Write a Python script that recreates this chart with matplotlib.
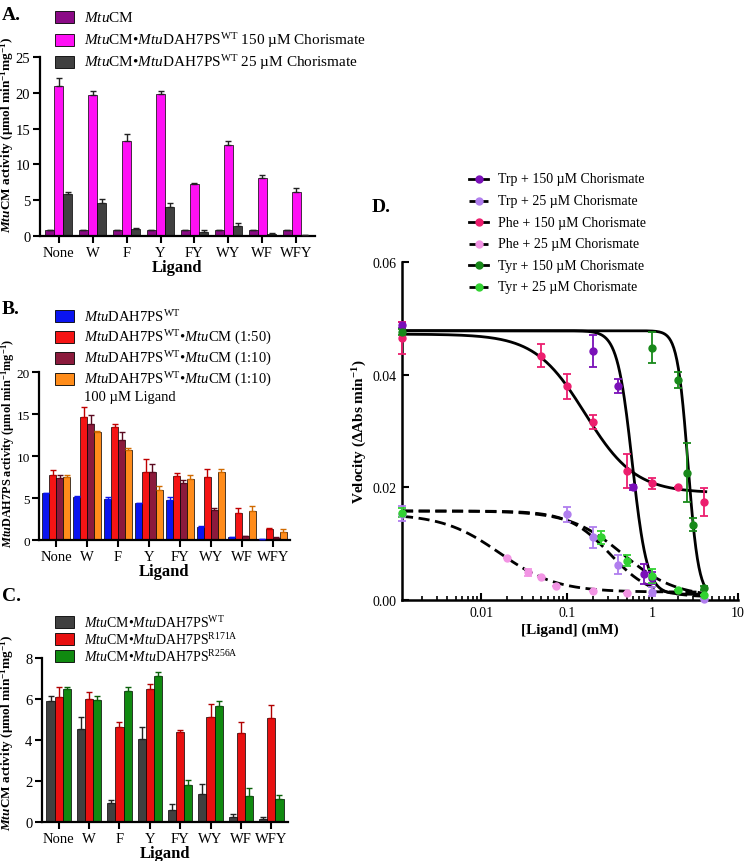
import numpy as np
import matplotlib
matplotlib.use('Agg')
import matplotlib.pyplot as plt
import matplotlib.patches as patches
from matplotlib.lines import Line2D
from matplotlib.ticker import FixedLocator, LogLocator, NullFormatter

plt.rcParams['font.family'] = ['Liberation Serif', 'DejaVu Serif']
plt.rcParams['mathtext.fontset'] = 'custom'
plt.rcParams['mathtext.rm'] = 'Liberation Serif'
plt.rcParams['mathtext.it'] = 'Liberation Serif:italic'
plt.rcParams['mathtext.bf'] = 'Liberation Serif:bold'
plt.rcParams['mathtext.bfit'] = 'Liberation Serif:italic:bold'

ligands = ['None', 'W', 'F', 'Y', 'FY', 'WY', 'WF', 'WFY']

# panel A
a_cm = [0.85, 0.85, 0.85, 0.85, 0.85, 0.85, 0.85, 0.85]
a_cm_err = [0.05] * 8
a_150 = [20.95, 19.65, 13.25, 19.9, 7.3, 12.65, 8.15, 6.15]
a_150_err = [1.05, 0.6, 0.95, 0.4, 0.15, 0.55, 0.35, 0.6]
a_25 = [5.9, 4.6, 1.0, 4.05, 0.6, 1.35, 0.25, 0.1]
a_25_err = [0.3, 0.5, 0.1, 0.6, 0.3, 0.5, 0.1, 0.05]

# panel B
b_wt = [5.6, 5.1, 4.9, 4.35, 4.8, 1.5, 0.35, 0.1]
b_wt_err = [0.05, 0.1, 0.25, 0.05, 0.3, 0.15, 0.05, 0.02]
b_50 = [7.75, 14.7, 13.45, 8.05, 7.65, 7.55, 3.2, 1.3]
b_50_err = [0.6, 1.1, 0.35, 1.6, 0.3, 0.9, 0.65, 0.1]
b_10 = [7.35, 13.8, 11.95, 8.1, 6.75, 3.55, 0.45, 0.25]
b_10_err = [0.4, 1.1, 0.95, 1.0, 0.4, 0.25, 0.05, 0.05]
b_10l = [7.5, 12.85, 10.7, 5.95, 7.25, 8.15, 3.45, 0.95]
b_10l_err = [0.25, 0.1, 0.25, 0.5, 0.5, 0.3, 0.6, 0.4]

# panel C
c_wt = [5.9, 4.55, 0.95, 4.05, 0.57, 1.35, 0.22, 0.13]
c_wt_err = [0.25, 0.55, 0.12, 0.6, 0.3, 0.48, 0.15, 0.1]
c_171 = [6.12, 6.02, 4.62, 6.5, 4.4, 5.12, 4.35, 5.05]
c_171_err = [0.45, 0.33, 0.28, 0.25, 0.1, 0.62, 0.52, 0.65]
c_256 = [6.5, 5.95, 6.4, 7.12, 1.8, 5.68, 1.25, 1.12]
c_256_err = [0.1, 0.2, 0.18, 0.2, 0.25, 0.2, 0.4, 0.18]

# panel D (ligand mM, velocity, sd)
trp150_x = [0.00118, 0.2, 0.4, 0.6, 0.8, 1.0]
trp150_y = [0.0488, 0.0442, 0.0380, 0.0200, 0.0046, 0.0039]
trp150_e = [0.0005, 0.0028, 0.0012, 0.0005, 0.0018, 0.0010]
trp25_x = [0.00118, 0.1, 0.2, 0.4, 1.0, 4.0]
trp25_y = [0.0153, 0.0152, 0.0111, 0.0063, 0.0015, 0.0001]
trp25_e = [0.0013, 0.0013, 0.0018, 0.0016, 0.0008, 0.0]
phe150_x = [0.00118, 0.05, 0.1, 0.2, 0.5, 1.0, 2.0, 4.0]
phe150_y = [0.0465, 0.0434, 0.0379, 0.0316, 0.0229, 0.0207, 0.0200, 0.0174]
phe150_e = [0.0028, 0.0020, 0.0022, 0.0012, 0.0030, 0.0010, 0.0, 0.0025]
phe25_x = [0.02, 0.035, 0.05, 0.075, 0.2, 0.5]
phe25_y = [0.0074, 0.0049, 0.0040, 0.0025, 0.0016, 0.0012]
phe25_e = [0.0, 0.0006, 0.0, 0.0, 0.0, 0.0]
tyr150_x = [0.00118, 1.0, 2.0, 2.5, 3.0, 4.0]
tyr150_y = [0.0476, 0.0448, 0.0390, 0.0226, 0.0134, 0.0021]
tyr150_e = [0.0005, 0.0028, 0.0014, 0.0052, 0.0012, 0.0003]
tyr25_x = [0.00118, 0.25, 0.5, 1.0, 2.0, 4.0]
tyr25_y = [0.0155, 0.0111, 0.0070, 0.0043, 0.0018, 0.0009]
tyr25_e = [0.0008, 0.0012, 0.0010, 0.0012, 0.0, 0.0]

# fitted dose-response parameters: top, bottom, IC50, hill
trp150_fit = (0.0478, 0.001, 0.58, 5.0)
trp25_fit = (0.0158, 0.0005, 0.32, 1.8)
phe150_fit = (0.0472, 0.019, 0.163, 1.48)
phe25_fit = (0.0153, 0.0014, 0.0163, 1.3)
tyr150_fit = (0.0478, 0.0005, 2.6, 7.0)
tyr25_fit = (0.0158, 0.0005, 0.45, 1.4)

W, H = 745, 862
fig = plt.figure(figsize=(7.45, 8.62), dpi=100)


def px_axes(left, top, right, bottom):
    return fig.add_axes([left / W, 1 - bottom / H, (right - left) / W, (bottom - top) / H])


def key(x, y, color, label, size=11):
    fig.add_artist(patches.Rectangle((x / W, 1 - (y + 6) / H), 19 / W, 12 / H,
                                     facecolor=color, edgecolor='black', lw=0.6,
                                     transform=fig.transFigure))
    fig.text((x + 29) / W, 1 - y / H, label, fontsize=size, va='center', ha='left')


def bar_panel(ax, series, errs, colors, width, ylim, yticks, ecolors):
    n = len(series)
    idx = np.arange(len(ligands))
    for j, (vals, err, c, ec) in enumerate(zip(series, errs, colors, ecolors)):
        xs = idx + (j - (n - 1) / 2) * width
        ax.bar(xs, vals, width, color=c, edgecolor='black', linewidth=0.5, zorder=2)
        ax.errorbar(xs, vals, yerr=[np.zeros(len(vals)), err], fmt='none',
                    ecolor=ec, elinewidth=1, capsize=2.2, capthick=1, zorder=3)
    ax.set_xlim(-0.55, 7.55)
    ax.set_ylim(*ylim)
    ax.set_yticks(yticks)
    ax.set_xticks(idx)
    ax.set_xticklabels(ligands)
    for s in ['top', 'right']:
        ax.spines[s].set_visible(False)
    for s in ['left', 'bottom']:
        ax.spines[s].set_linewidth(1.6)
    ax.tick_params(direction='out', length=5, width=1.5, labelsize=10.5, pad=2)
    ax.set_xlabel('Ligand', fontsize=12, fontweight='bold', labelpad=0)


def place_ylabel(ax, left_px, width_px, right_edge_px, yfrac):
    ax.yaxis.set_label_coords((right_edge_px - left_px) / width_px, yfrac)


# ---- A ----
axA = px_axes(40, 58, 315, 237)
bar_panel(axA, [a_cm, a_150, a_25], [a_cm_err, a_150_err, a_25_err],
          ['#8B0A86', '#FF10F5', '#404040'], 0.27, (0, 25), range(0, 26, 5),
          ['#222222', '#222222', '#222222'])
axA.set_ylabel(r'$\mathbfit{Mtu}$CM activity (µmol min$^{\mathbf{-1}}$mg$^{\mathbf{-1}}$)',
               fontsize=9.5, fontweight='bold')
place_ylabel(axA, 40, 275, 16, 0.57)
fig.text(2 / W, 1 - 16 / H, 'A.', fontsize=14, fontweight='bold', va='center')
key(55, 18, '#8B0A86', r'$\mathit{Mtu}$CM')
key(55, 41, '#FF10F5', r'$\mathit{Mtu}$CM•$\mathit{Mtu}$DAH7PS$^{\mathrm{WT}}$ 150 µM Chorismate')
key(55, 63, '#404040', r'$\mathit{Mtu}$CM•$\mathit{Mtu}$DAH7PS$^{\mathrm{WT}}$ 25 µM Chorismate')

# ---- B ----
axB = px_axes(39, 373, 290, 541)
bar_panel(axB, [b_wt, b_50, b_10, b_10l], [b_wt_err, b_50_err, b_10_err, b_10l_err],
          ['#0A14F0', '#F51414', '#8B1A3C', '#FF8C1A'], 0.225, (0, 20), range(0, 21, 5),
          ['#0A14F0', '#C00000', '#5A0A20', '#D06A00'])
axB.tick_params(axis='y', labelsize=9.5, pad=1.5)
axB.set_ylabel(r'$\mathbfit{Mtu}$DAH7PS activity (µmol min$^{\mathbf{-1}}$mg$^{\mathbf{-1}}$)',
               fontsize=8.8, fontweight='bold')
place_ylabel(axB, 39, 251, 17, 0.58)
fig.text(2 / W, 1 - 310 / H, 'B.', fontsize=14, fontweight='bold', va='center')
key(55, 317, '#0A14F0', r'$\mathit{Mtu}$DAH7PS$^{\mathrm{WT}}$', 10.5)
key(55, 338, '#F51414', r'$\mathit{Mtu}$DAH7PS$^{\mathrm{WT}}$•$\mathit{Mtu}$CM (1:50)', 10.5)
key(55, 359, '#8B1A3C', r'$\mathit{Mtu}$DAH7PS$^{\mathrm{WT}}$•$\mathit{Mtu}$CM (1:10)', 10.5)
key(55, 380, '#FF8C1A', r'$\mathit{Mtu}$DAH7PS$^{\mathrm{WT}}$•$\mathit{Mtu}$CM (1:10)', 10.5)
fig.text(84 / W, 1 - 398 / H, '100 µM Ligand', fontsize=10.5, va='center')

# ---- C ----
axC = px_axes(42, 659, 288, 823)
bar_panel(axC, [c_wt, c_171, c_256], [c_wt_err, c_171_err, c_256_err],
          ['#404040', '#E81010', '#108A10'], 0.27, (0, 8), range(0, 9, 2),
          ['#222222', '#B00000', '#0A600A'])
axC.set_ylabel(r'$\mathbfit{Mtu}$CM activity (µmol min$^{\mathbf{-1}}$mg$^{\mathbf{-1}}$)',
               fontsize=9.5, fontweight='bold')
place_ylabel(axC, 42, 246, 16, 0.55)
fig.text(2 / W, 1 - 597 / H, 'C.', fontsize=14, fontweight='bold', va='center')
key(55, 623, '#404040', r'$\mathit{Mtu}$CM•$\mathit{Mtu}$DAH7PS$^{\mathrm{WT}}$', 10)
key(55, 640, '#E81010', r'$\mathit{Mtu}$CM•$\mathit{Mtu}$DAH7PS$^{\mathrm{R171A}}$', 10)
key(55, 657, '#108A10', r'$\mathit{Mtu}$CM•$\mathit{Mtu}$DAH7PS$^{\mathrm{R256A}}$', 10)

# ---- D ----
axD = px_axes(402, 263, 738, 601)
xfit = np.logspace(np.log10(0.00118), np.log10(4.2), 400)


def hill(p):
    top, bottom, ic50, h = p
    return bottom + (top - bottom) / (1 + (xfit / ic50) ** h)


d_series = [
    ('Trp + 150 µM Chorismate', trp150_x, trp150_y, trp150_e, trp150_fit, '#7A10B8', '-'),
    ('Trp + 25 µM Chorismate', trp25_x, trp25_y, trp25_e, trp25_fit, '#B07EEE', '--'),
    ('Phe + 150 µM Chorismate', phe150_x, phe150_y, phe150_e, phe150_fit, '#EC1E6E', '-'),
    ('Phe + 25 µM Chorismate', phe25_x, phe25_y, phe25_e, phe25_fit, '#F294E4', '--'),
    ('Tyr + 150 µM Chorismate', tyr150_x, tyr150_y, tyr150_e, tyr150_fit, '#18891A', '-'),
    ('Tyr + 25 µM Chorismate', tyr25_x, tyr25_y, tyr25_e, tyr25_fit, '#32D232', '--'),
]

for name, xs, ys, es, fit, c, ls in d_series:
    if ls == '--':
        axD.plot(xfit, hill(fit), color='black', lw=2, ls=(0, (4, 2)), zorder=2)
    else:
        axD.plot(xfit, hill(fit), color='black', lw=2, zorder=2)
for name, xs, ys, es, fit, c, ls in d_series:
    axD.errorbar(xs, ys, yerr=es, fmt='o', color=c, ms=5, elinewidth=1.3,
                 capsize=3, capthick=1.3, zorder=4, clip_on=False)

axD.set_xscale('log')
axD.set_xlim(0.00118, 10)
axD.set_ylim(0, 0.06)
axD.set_yticks([0, 0.02, 0.04, 0.06])
axD.set_yticklabels(['0.00', '0.02', '0.04', '0.06'])
axD.xaxis.set_major_locator(FixedLocator([0.01, 0.1, 1, 10]))
axD.set_xticklabels(['0.01', '0.1', '1', '10'])
axD.xaxis.set_minor_locator(LogLocator(base=10, subs=np.arange(2, 10)))
axD.xaxis.set_minor_formatter(NullFormatter())
for s in ['top', 'right']:
    axD.spines[s].set_visible(False)
for s in ['left', 'bottom']:
    axD.spines[s].set_linewidth(1.8)
axD.tick_params(which='major', direction='in', length=5, width=1.5, labelsize=10, pad=4)
axD.tick_params(which='minor', direction='in', length=3, width=1.2)
axD.set_xlabel('[Ligand] (mM)', fontsize=11, fontweight='bold', labelpad=3)
axD.set_ylabel(r'Velocity (∆Abs min$^{\mathbf{-1}}$)', fontsize=11, fontweight='bold')
place_ylabel(axD, 402, 336, 369, 0.5)
fig.text(372 / W, 1 - 208 / H, 'D.', fontsize=14, fontweight='bold', va='center')

for i, (name, xs, ys, es, fit, c, ls) in enumerate(d_series):
    y = 1 - (180 + i * 21.6) / H
    fig.add_artist(Line2D([469 / W, 488 / W], [y, y], color='black', lw=2,
                          ls=(0, (3, 1.5)) if ls == '--' else '-',
                          transform=fig.transFigure))
    fig.add_artist(Line2D([478.5 / W], [y], marker='o', ms=5, color=c, ls='none',
                          transform=fig.transFigure))
    fig.text(498 / W, y, name, fontsize=10, va='center')

fig.savefig('out.png', dpi=100)
